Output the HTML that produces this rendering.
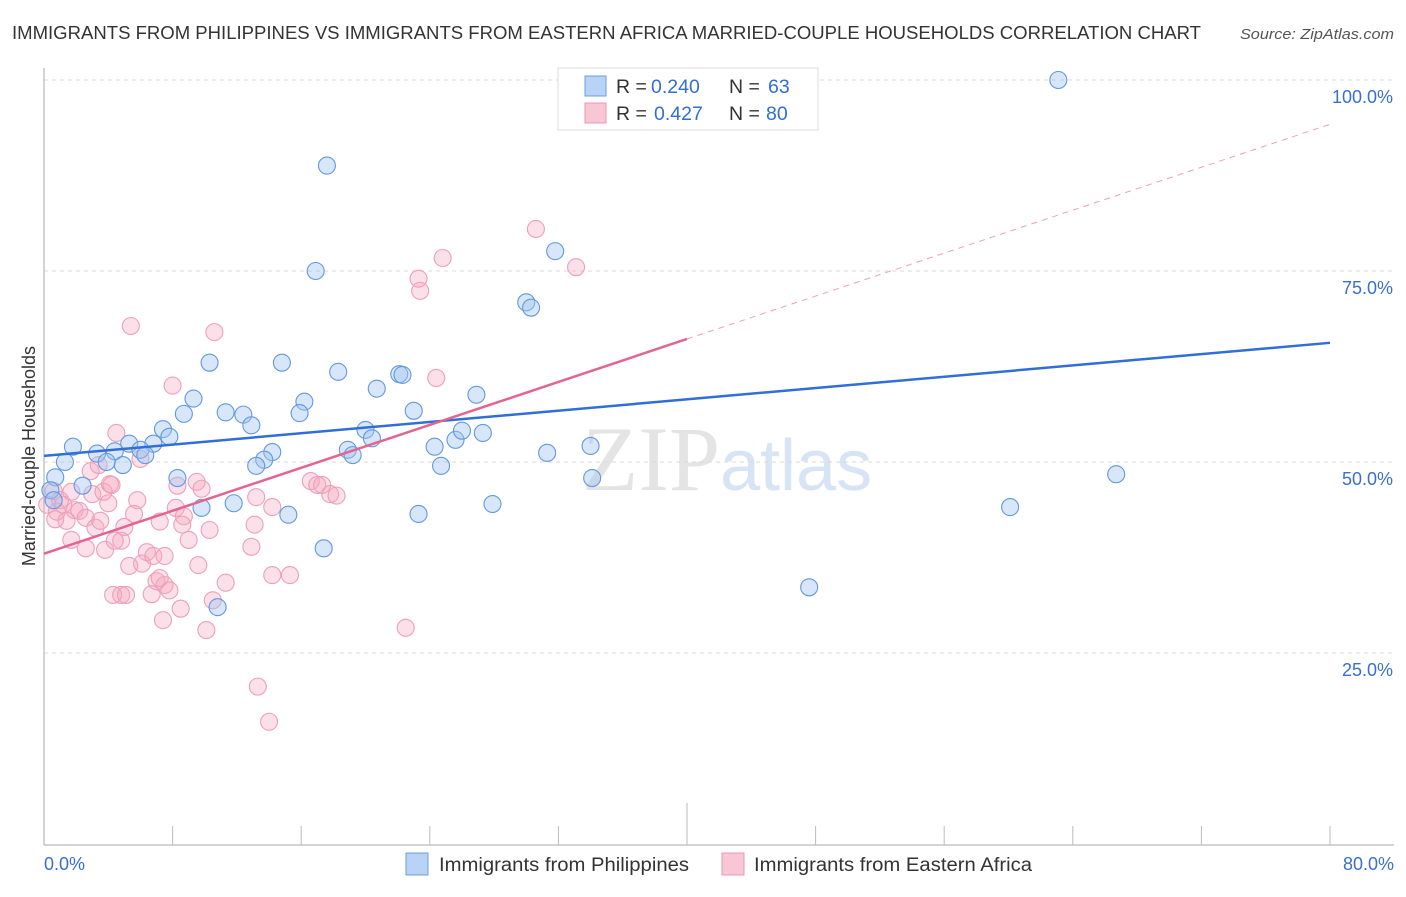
<!DOCTYPE html>
<html><head><meta charset="utf-8"><style>
body{margin:0;background:#fff;font-family:"Liberation Sans",sans-serif;}
</style></head><body>
<svg width="1406" height="892" xmlns="http://www.w3.org/2000/svg" font-family="Liberation Sans, sans-serif">
<text x="12" y="39" font-size="18" fill="#333" textLength="1189" lengthAdjust="spacingAndGlyphs">IMMIGRANTS FROM PHILIPPINES VS IMMIGRANTS FROM EASTERN AFRICA MARRIED-COUPLE HOUSEHOLDS CORRELATION CHART</text>
<text x="1240" y="39" font-size="15" fill="#555" font-style="italic" textLength="154" lengthAdjust="spacingAndGlyphs">Source: ZipAtlas.com</text>
<text x="720" y="490" font-size="92" fill="#e4e4e4" text-anchor="end" font-family="Liberation Serif, serif">ZIP</text>
<text x="720" y="490" font-size="72" fill="#d6e4f5">atlas</text>
<g id="grid"></g>
<g id="axes"></g>
<g id="points"></g>
<g id="lines"></g>
<text transform="translate(35,456) rotate(-90)" font-size="18" fill="#333" text-anchor="middle">Married-couple Households</text>
<text x="44" y="870" font-size="18" fill="#3a6fd0">0.0%</text>
<text x="1394" y="870" font-size="18" fill="#3a6fd0" text-anchor="end">80.0%</text>
<g>
<rect x="558" y="68" width="260" height="62" fill="#fff" stroke="#ddd"/>
<rect x="585" y="76" width="21" height="20" fill="#b8d3f5" stroke="#6d9ee0"/>
<rect x="585" y="103" width="21" height="20" fill="#f9c6d6" stroke="#ea98b3"/>
<text x="616" y="93" font-size="19.5" fill="#333">R = <tspan fill="#2f6fd6" x="651">0.240</tspan><tspan x="729">N = </tspan><tspan fill="#2f6fd6" x="768">63</tspan></text>
<text x="616" y="120" font-size="19.5" fill="#333">R = <tspan fill="#2f6fd6" x="654">0.427</tspan><tspan x="729">N = </tspan><tspan fill="#2f6fd6" x="766">80</tspan></text>
</g>
<g>
<rect x="406" y="853" width="22" height="22" fill="#b8d3f5" stroke="#6d9ee0"/>
<text x="439" y="871" font-size="19" fill="#333" textLength="250" lengthAdjust="spacingAndGlyphs">Immigrants from Philippines</text>
<rect x="722" y="853" width="22" height="22" fill="#f9c6d6" stroke="#ea98b3"/>
<text x="754" y="871" font-size="19" fill="#333" textLength="278" lengthAdjust="spacingAndGlyphs">Immigrants from Eastern Africa</text>
</g>
</svg>
<script>
const yTicks=[25,50,75,100];
const yTickLabels=["25.0%","50.0%","75.0%","100.0%"];
const xTicks=[8,16,24,32,40,48,56,64,72,80];
const blueX=[63.1,17.6,16.9,31.8,30.0,30.3,10.3,14.8,18.3,22.1,22.3,20.7,9.3,16.2,8.7,11.3,12.4,15.9,23.0,26.9,12.9,7.4,7.8,6.8,5.3,1.8,3.3,4.4,6.0,6.3,1.3,3.9,4.9,14.2,13.7,13.2,18.9,19.2,20.0,20.4,24.3,25.6,26.0,27.3,24.7,31.3,34.0,34.1,66.7,0.7,0.4,2.4,8.3,0.6,9.8,11.8,15.2,27.9,23.3,17.4,10.8,47.6,60.1];
const blueY=[100.0,88.8,75.0,77.6,70.9,70.2,63.0,63.0,61.8,61.5,61.4,59.6,58.3,57.9,56.3,56.5,56.2,56.4,56.7,58.8,54.8,54.3,53.3,52.4,52.4,52.0,51.1,51.4,51.6,50.9,50.0,50.0,49.6,51.3,50.3,49.5,51.6,50.9,54.2,53.1,52.0,52.9,54.1,53.8,49.5,51.2,52.1,47.9,48.4,48.0,46.3,46.9,47.9,45.0,44.0,44.6,43.1,44.5,43.2,38.7,31.0,33.6,44.1];
const pinkX=[30.6,33.1,23.3,23.4,24.8,5.4,10.6,8.0,24.4,4.5,2.9,3.4,6.0,0.6,1.0,1.7,3.0,3.7,4.1,0.2,0.8,1.2,1.9,2.2,2.6,1.4,0.7,3.2,3.5,4.0,5.8,4.2,5.0,4.8,5.6,7.2,8.2,8.7,8.3,9.5,9.8,8.6,9.0,10.3,1.7,2.6,3.8,5.3,6.1,6.4,6.8,7.5,7.5,7.0,7.2,6.7,7.8,8.5,7.4,10.1,10.5,9.6,11.3,13.2,13.1,12.9,14.2,14.2,15.3,16.6,17.0,17.8,18.2,17.3,22.5,13.3,14.0,4.3,4.8,5.1,4.4];
const pinkY=[80.5,75.5,74.0,72.4,76.7,67.8,67.0,60.0,61.0,53.8,48.8,49.6,50.4,46.2,45.0,46.1,45.8,46.1,47.1,44.4,43.5,44.4,43.7,43.6,42.7,42.3,42.5,41.4,42.3,44.6,45.0,47.0,41.5,39.7,43.2,42.2,44.0,42.9,46.9,47.4,46.5,41.8,39.8,41.1,39.8,38.7,38.5,36.4,36.7,38.2,37.7,37.7,33.9,34.4,34.8,32.7,33.2,30.8,29.3,28.0,31.9,36.5,34.2,45.4,41.8,38.9,44.1,35.2,35.2,47.5,47.0,45.8,45.6,47.0,28.3,20.6,16.0,32.6,32.6,32.6,39.7];
const blueTrend=[50.8,65.6];
const pinkTrend=[38.0,94.2];
const pinkSolidEnd=40;

const NS="http://www.w3.org/2000/svg";
const X=v=>44+v*(1286/80);
const Y=v=>844-v*(764/100);
function mk(tag,attrs,parent){const e=document.createElementNS(NS,tag);for(const k in attrs)e.setAttribute(k,attrs[k]);document.getElementById(parent).appendChild(e);return e;}

yTicks.forEach((t,i)=>{
  const g=mk('line',{x1:44,x2:1394,y1:Y(t),y2:Y(t),stroke:'#d8d8d8','stroke-dasharray':'4,4'},'grid');
  
  
  const tx=mk('text',{x:1393,y:Y(t)+23,'font-size':18,fill:'#3a6fd0','text-anchor':'end'},'grid');
  tx.textContent=yTickLabels[i];
  
  
});
const ya=mk('line',{x1:44,x2:44,y1:68,y2:845,stroke:'#aaa'},'axes');


const xa=mk('line',{x1:44,x2:1394,y1:845,y2:845,stroke:'#aaa'},'axes');


xTicks.forEach(t=>{
  const l=mk('line',{x1:X(t),x2:X(t),y1:t===40?803:826,y2:845,stroke:'#bbb'},'axes');
  
  
});
pinkX.forEach((v,i)=>{
  const c=mk('circle',{cx:X(v),cy:Y(pinkY[i]),r:8.5,fill:'rgba(245,165,192,0.35)',stroke:'#eca0b9','stroke-width':1.1},'points');
  
  
});
blueX.forEach((v,i)=>{
  const c=mk('circle',{cx:X(v),cy:Y(blueY[i]),r:8.5,fill:'rgba(160,196,240,0.42)',stroke:'#6399de','stroke-width':1.1},'points');
  
  
});
const bl=mk('line',{x1:X(0),y1:Y(blueTrend[0]),x2:X(80),y2:Y(blueTrend[1]),stroke:'#2f6fd6','stroke-width':2.5},'lines');


const pAt=x=>pinkTrend[0]+(pinkTrend[1]-pinkTrend[0])*x/80;
const pd=mk('line',{x1:X(pinkSolidEnd),y1:Y(pAt(pinkSolidEnd)),x2:X(80),y2:Y(pinkTrend[1]),stroke:'#eba0b8','stroke-width':1,'stroke-dasharray':'6,5'},'lines');


const pl=mk('line',{x1:X(0),y1:Y(pinkTrend[0]),x2:X(pinkSolidEnd),y2:Y(pAt(pinkSolidEnd)),stroke:'#e5638f','stroke-width':2.5},'lines');


</script>
</body></html>
